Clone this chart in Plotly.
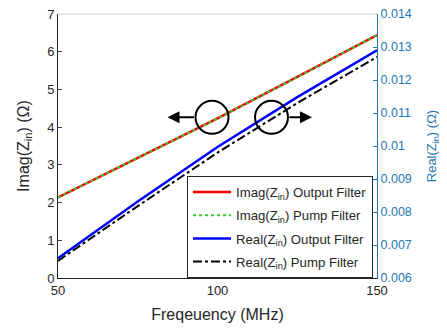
import plotly.graph_objects as go

freq = [50, 75, 100, 125, 150]
imag_output = [2.14, 3.19, 4.23, 5.33, 6.44]
imag_pump = [2.14, 3.19, 4.23, 5.33, 6.44]
real_output = [0.00660, 0.00832, 0.00997, 0.01148, 0.01290]
real_pump = [0.00652, 0.00818, 0.00980, 0.01130, 0.01270]

left_ticks = [0, 1, 2, 3, 4, 5, 6, 7]
right_ticks = [0.006, 0.007, 0.008, 0.009, 0.01, 0.011, 0.012, 0.013, 0.014]
right_labels = ["0.006", "0.007", "0.008", "0.009", "0.01", "0.011", "0.012", "0.013", "0.014"]

BLUE_AX = "#1f77b4"
FONT = "Liberation Sans, Arial, sans-serif"

fig = go.Figure()
fig.add_trace(go.Scatter(x=freq, y=imag_output, mode="lines", name="Imag(Z<sub>in</sub>) Output Filter",
                         legendgroup="a", line=dict(color="#ff0000", width=2.5)))
fig.add_trace(go.Scatter(x=freq, y=imag_pump, mode="lines", name="Imag(Z<sub>in</sub>) Pump Filter",
                         legendgroup="b", line=dict(color="#33cc33", width=2, dash="dot")))
fig.add_trace(go.Scatter(x=freq, y=real_output, mode="lines", name="Real(Z<sub>in</sub>) Output Filter",
                         legendgroup="c", line=dict(color="#0000ff", width=2.5), yaxis="y2"))
fig.add_trace(go.Scatter(x=freq, y=real_pump, mode="lines", name="Real(Z<sub>in</sub>) Pump Filter",
                         legendgroup="d", line=dict(color="#000000", width=2, dash="dashdot"), yaxis="y2"))

# circles and arrows (pixel-based sizes converted to data units)
px_x = 100 / 319.0
px_y = 7 / 264.0
r = 16.5
c1 = (50 + (212 - 58) * px_x, 4.26)
c2 = (50 + (271.5 - 58) * px_x, 4.26)
for cx, cy in (c1, c2):
    fig.add_shape(type="circle", xref="x", yref="y",
                  x0=cx - r * px_x, x1=cx + r * px_x, y0=cy - r * px_y, y1=cy + r * px_y,
                  line=dict(color="black", width=2))
fig.add_annotation(x=c1[0] - (r + 28) * px_x, y=c1[1], ax=c1[0] - r * px_x, ay=c1[1],
                   xref="x", yref="y", axref="x", ayref="y", text="", showarrow=True,
                   arrowhead=2, arrowsize=1.2, arrowwidth=2, arrowcolor="black")
fig.add_annotation(x=c2[0] + (r + 24) * px_x, y=c2[1], ax=c2[0] + r * px_x, ay=c2[1],
                   xref="x", yref="y", axref="x", ayref="y", text="", showarrow=True,
                   arrowhead=2, arrowsize=1.2, arrowwidth=2, arrowcolor="black")

fig.update_layout(
    width=447, height=328,
    margin=dict(l=50, r=78, t=6, b=58, autoexpand=False),
    paper_bgcolor="white", plot_bgcolor="white",
    font=dict(family=FONT, size=13, color="#262626"),
    showlegend=True,
    legend=dict(x=(187 - 58) / 319.0, y=0, xanchor="left", yanchor="bottom",
                bgcolor="white", bordercolor="#262626", borderwidth=1,
                font=dict(size=13.2, color="#262626"), itemwidth=38,
                traceorder="grouped", tracegroupgap=3),
    xaxis=dict(range=[50, 150], tickvals=[50, 100, 150], showgrid=False, zeroline=False,
               showline=True, linecolor="#262626", mirror=False, ticks="inside", ticklen=4,
               automargin=False, ticklabeloverflow="allow",
               title=dict(text="Freqeuency (MHz)", standoff=12), tickfont=dict(size=13)),
    yaxis=dict(range=[0, 7], tickvals=left_ticks, showgrid=False, zeroline=False,
               showline=True, linecolor="#262626", ticks="inside", ticklen=4,
               automargin=False, ticklabeloverflow="allow",
               title=dict(text="Imag(Z<sub>in</sub>) (\u03a9)", standoff=13), tickfont=dict(size=13)),
    yaxis2=dict(range=[0.006, 0.014], tickvals=right_ticks, ticktext=right_labels,
                overlaying="y", side="right", showgrid=False, zeroline=False,
                showline=True, linecolor=BLUE_AX, ticks="inside", ticklen=4, tickcolor=BLUE_AX,
                automargin=False, ticklabeloverflow="allow",
                tickfont=dict(color=BLUE_AX, size=12.5),
                title=dict(text="Real(Z<sub>in</sub>) (\u03a9)", font=dict(color=BLUE_AX, size=13), standoff=16)),
)
fig.add_shape(type="line", xref="paper", yref="paper", x0=0, x1=1, y0=1, y1=1,
              line=dict(color="#d0d0d0", width=1))

fig.write_html("out.html")
